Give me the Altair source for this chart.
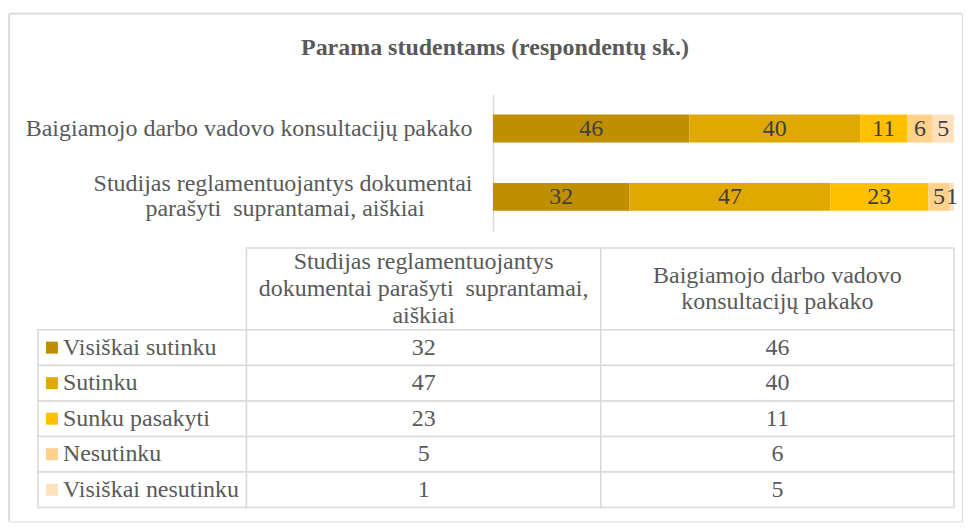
import altair as alt
import pandas as pd

# ---------------- data ----------------
title_text = "Parama studentams (respondentų sk.)"
categories = ["Visiškai sutinku", "Sutinku", "Sunku pasakyti", "Nesutinku", "Visiškai nesutinku"]
colors = ["#BF8F00", "#E0A800", "#FFC000", "#FFD18A", "#FFE2BD"]
questions = [
    "Baigiamojo darbo vadovo konsultacijų pakako",
    "Studijas reglamentuojantys dokumentai parašyti  suprantamai, aiškiai",
]
values_q1 = [46, 40, 11, 6, 5]
values_q2 = [32, 47, 23, 5, 1]
NB = "\u00a0"
q2_label_lines = ["Studijas reglamentuojantys dokumentai", "parašyti" + NB + " suprantamai, aiškiai" + NB * 8 + "\u200b"]
table_headers = [
    ["Studijas reglamentuojantys", "dokumentai parašyti" + NB + " suprantamai,", "aiškiai"],
    ["Baigiamojo darbo vadovo", "konsultacijų pakako"],
]

# ---------------- layout (pixels inside plot area) ----------------
W, H = 955, 509
BAR_X_RANGE = [485, 947]
BAR_Y_RANGE = [81, 218]
COL_EDGES = [29, 238, 593, 947]
HEADER_Y = [235, 317]
ROW_H = 35.6
HDR_LH = 26.7
FONT = "Liberation Serif"
FS = 24
GRID = "#D9D9D9"

# ---------------- bar data ----------------
rows = []
for q, vals in zip(questions, [values_q1, values_q2]):
    for i, (c, v) in enumerate(zip(categories, vals)):
        rows.append({"question": q, "category": c, "value": v, "order": i})
bars_df = pd.DataFrame(rows)

color_enc = alt.Color("category:N", scale=alt.Scale(domain=categories, range=colors), legend=None)

label_expr = (
    "datum.value == '" + questions[1] + "' ? ['" + q2_label_lines[0] + "', '" + q2_label_lines[1] + "'] : datum.label"
)
two_line_test = "datum.value == '" + questions[1] + "'"

y_enc = alt.Y(
    "question:N",
    sort=questions,
    scale=alt.Scale(range=BAR_Y_RANGE, paddingInner=0.59, paddingOuter=0.295),
    axis=alt.Axis(
        title=None, ticks=False, labelFont=FONT, labelFontSize=FS, labelColor="#595959",
        labelPadding=21, labelLimit=0, labelLineHeight=25, labelExpr=label_expr,
        labelOffset={"condition": {"test": two_line_test, "value": -12.5}, "value": 0},
        domainColor=GRID, domainWidth=1.5, offset=-BAR_X_RANGE[0], grid=False,
    ),
)

base = alt.Chart(bars_df).transform_stack(
    stack="value", groupby=["question"], sort=[alt.SortField("order")], as_=["v0", "v1"]
).transform_calculate(mid="(datum.v0 + datum.v1) / 2")

x_scale = alt.Scale(domain=[0, 108], range=BAR_X_RANGE, nice=False)

bars = base.mark_bar(size=28).encode(
    x=alt.X("v0:Q", scale=x_scale, axis=None),
    x2="v1:Q",
    y=y_enc,
    color=color_enc,
)
bar_labels = base.mark_text(font=FONT, fontSize=24, color="#404040", baseline="middle").encode(
    x=alt.X("mid:Q", scale=x_scale, axis=None),
    y=alt.Y("question:N", sort=questions),
    text="value:Q",
)
bar_group = alt.layer(bars, bar_labels)

# ---------------- table ----------------
table_cols = [questions[1], questions[0]]
col_vals = {questions[0]: values_q1, questions[1]: values_q2}

cells = []
for j in range(2):
    cells.append({"x0": COL_EDGES[j + 1], "x1": COL_EDGES[j + 2], "y0": HEADER_Y[0], "y1": HEADER_Y[1]})
for r in range(len(categories)):
    for j in range(3):
        cells.append({
            "x0": COL_EDGES[j], "x1": COL_EDGES[j + 1],
            "y0": HEADER_Y[1] + r * ROW_H, "y1": HEADER_Y[1] + (r + 1) * ROW_H,
        })
cells_df = pd.DataFrame(cells)

table_cells = alt.Chart(cells_df).mark_rect(fill="white", stroke=GRID, strokeWidth=1.5).encode(
    x=alt.X("x0:Q", scale=None), x2="x1:Q",
    y=alt.Y("y0:Q", scale=None), y2="y1:Q",
)

hdr_rows = []
hc = (HEADER_Y[0] + HEADER_Y[1]) / 2
for j, lines in enumerate(table_headers):
    for k, ln in enumerate(lines):
        hdr_rows.append({
            "text": ln,
            "x": (COL_EDGES[j + 1] + COL_EDGES[j + 2]) / 2,
            "y": hc + (k - (len(lines) - 1) / 2) * HDR_LH,
        })
hdr_df = pd.DataFrame(hdr_rows)
hdr_text = alt.Chart(hdr_df).mark_text(
    font=FONT, fontSize=FS, color="#595959", baseline="middle", align="center"
).encode(x=alt.X("x:Q", scale=None), y=alt.Y("y:Q", scale=None), text="text:N")

val_rows = []
for r, c in enumerate(categories):
    yc = HEADER_Y[1] + (r + 0.5) * ROW_H
    val_rows.append({"category": c, "kind": "label", "x": COL_EDGES[0] + 25, "y": yc, "text": c})
    for j, q in enumerate(table_cols):
        val_rows.append({"category": c, "kind": "value",
                         "x": (COL_EDGES[j + 1] + COL_EDGES[j + 2]) / 2, "y": yc,
                         "text": str(col_vals[q][r])})
val_df = pd.DataFrame(val_rows)

row_labels = alt.Chart(val_df).transform_filter("datum.kind == 'label'").mark_text(
    font=FONT, fontSize=FS, color="#595959", align="left", baseline="middle"
).encode(x=alt.X("x:Q", scale=None), y=alt.Y("y:Q", scale=None), text="text:N")

row_values = alt.Chart(val_df).transform_filter("datum.kind == 'value'").mark_text(
    font=FONT, fontSize=FS, color="#595959", align="center", baseline="middle"
).encode(x=alt.X("x:Q", scale=None), y=alt.Y("y:Q", scale=None), text="text:N")

key_df = pd.DataFrame({
    "category": categories,
    "x": [COL_EDGES[0] + 14] * len(categories),
    "y": [HEADER_Y[1] + (r + 0.5) * ROW_H for r in range(len(categories))],
})
keys = alt.Chart(key_df).mark_square(size=144, opacity=1).encode(
    x=alt.X("x:Q", scale=None), y=alt.Y("y:Q", scale=None), color=color_enc
)

# ---------------- decorations ----------------
one = pd.DataFrame({"a": [0]})
title = alt.Chart(one).mark_text(
    text=title_text, font=FONT, fontSize=24, fontWeight="bold", color="#595959", align="center", baseline="middle"
).encode(x=alt.value(487), y=alt.value(35))
border_top = alt.Chart(one).mark_rule(color=GRID, strokeWidth=1.5).encode(
    x=alt.value(0), x2=alt.value(W), y=alt.value(0)
)
border_left = alt.Chart(one).mark_rule(color=GRID, strokeWidth=1.5).encode(
    x=alt.value(0), y=alt.value(0), y2=alt.value(H)
)

chart = alt.layer(
    border_top, border_left, title, bar_group,
    table_cells, hdr_text, row_labels, row_values, keys,
).properties(
    width=W, height=H,
    padding={"left": 0, "top": 4, "right": 0, "bottom": 0},
).configure_view(stroke=None).configure(background="white")

chart.save("out.html", embed_options={"renderer": "svg", "actions": False})
